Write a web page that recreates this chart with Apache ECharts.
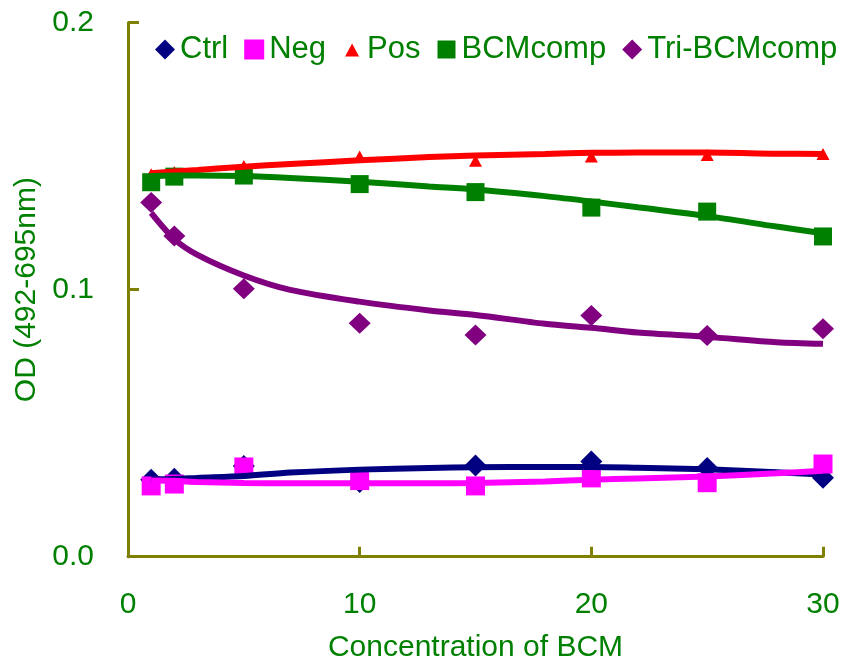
<!DOCTYPE html>
<html>
<head>
<meta charset="utf-8">
<script src="https://cdn.jsdelivr.net/npm/echarts@6/dist/echarts.min.js"></script>
<style>html,body{margin:0;padding:0;background:#fff;}#c{width:842px;height:661px;}</style>
</head>
<body>
<div id="c"></div>
<script>
// Measured points
const conc = [1, 2, 5, 10, 15, 20, 25, 30];
const ctrlVals = [0.0288, 0.0292, 0.0340, 0.0280, 0.0341, 0.0356, 0.0332, 0.0296];
const negVals  = [0.0265, 0.0272, 0.0336, 0.0285, 0.0265, 0.0295, 0.0277, 0.0347];
const posVals  = [0.1432, 0.1440, 0.1463, 0.1498, 0.1482, 0.1498, 0.1504, 0.1508];
const bcmVals  = [0.1402, 0.1423, 0.1427, 0.1395, 0.1365, 0.1307, 0.1292, 0.1199];
const triVals  = [0.1326, 0.1201, 0.1003, 0.0874, 0.0830, 0.0903, 0.0828, 0.0853];

// Trend lines
const fitX    = [1, 2, 3, 5, 7, 10, 13, 15, 18, 20, 22, 25, 28, 30];
const ctrlFit = [0.0290, 0.0291, 0.0295, 0.0302, 0.0315, 0.0326, 0.0332, 0.0335, 0.0336, 0.0336, 0.0333, 0.0327, 0.0316, 0.0308];
const negFit  = [0.0285, 0.0284, 0.0280, 0.0276, 0.0275, 0.0275, 0.0275, 0.0276, 0.0282, 0.0288, 0.0293, 0.0300, 0.0312, 0.0322];
const posFit  = [0.1436, 0.1442, 0.1448, 0.1460, 0.1470, 0.1484, 0.1496, 0.1502, 0.1508, 0.1512, 0.1513, 0.1513, 0.1509, 0.1508];
const bcmFit  = [0.1425, 0.1427, 0.1427, 0.1425, 0.1418, 0.1404, 0.1386, 0.1375, 0.1350, 0.1330, 0.1308, 0.1275, 0.1236, 0.1211];
const triFit  = [0.1287, 0.1189, 0.1130, 0.1053, 0.0999, 0.0955, 0.0922, 0.0905, 0.0872, 0.0857, 0.0839, 0.0823, 0.0803, 0.0797];

const xTicks = [0, 10, 20, 30];
const yTickLabels = ['0.0', '0.1', '0.2'];

const FONT = "'Liberation Sans', Arial, sans-serif";
const TXT = '#008000';
const AX = '#808000';

const pairs = (xs, ys) => xs.map((x, i) => [x, ys[i]]);

const defs = [
  {name: 'Ctrl', color: '#000080', symbol: 'diamond', size: [22, 22], vals: ctrlVals, fit: ctrlFit},
  {name: 'Neg', color: '#FF00FF', symbol: 'rect', size: [19, 19], vals: negVals, fit: negFit},
  {name: 'Pos', color: '#FF0000', symbol: 'triangle', size: [13, 12], vals: posVals, fit: posFit},
  {name: 'BCMcomp', color: '#008000', symbol: 'rect', size: [18, 18], vals: bcmVals, fit: bcmFit},
  {name: 'Tri-BCMcomp', color: '#800080', symbol: 'diamond', size: [22, 21], vals: triVals, fit: triFit}
];

const series = [];
defs.forEach(d => {
  series.push({
    name: d.name + ' trend', type: 'line', data: pairs(fitX, d.fit),
    showSymbol: false, symbol: 'none', smooth: 0.3,
    lineStyle: {color: d.color, width: 6}, itemStyle: {color: d.color},
    silent: true, animation: false
  });
  series.push({
    name: d.name, type: 'scatter', data: pairs(conc, d.vals),
    symbol: d.symbol, symbolSize: d.size,
    itemStyle: {color: d.color, opacity: 1}, animation: false
  });
});

const legendIcons = {
  'Ctrl': 'diamond', 'Neg': 'rect',
  'Pos': 'path://M0,0 M20,20 M3,17 L10,4 L17,17 Z',
  'BCMcomp': 'path://M0,0 M20,20 M1,1 L19,1 L19,19 L1,19 Z',
  'Tri-BCMcomp': 'diamond'
};

const chart = echarts.init(document.getElementById('c'), null, {renderer: 'canvas'});
chart.setOption({
  backgroundColor: '#ffffff',
  animation: false,
  grid: {left: 128, right: 19, top: 22.5, bottom: 104.3, containLabel: false, outerBoundsMode: 'none'},
  legend: {
    left: 155, top: 34, width: 687, padding: 0, itemWidth: 20, itemHeight: 20, itemGap: 16,
    textStyle: {color: TXT, fontSize: 31, fontFamily: FONT},
    data: defs.map(d => ({name: d.name, icon: legendIcons[d.name], itemStyle: {color: d.color}}))
  },
  xAxis: {
    type: 'value', min: 0, max: 30, interval: 10,
    name: 'Concentration of BCM', nameLocation: 'middle', nameGap: 76,
    nameTextStyle: {color: TXT, fontSize: 30, fontFamily: FONT},
    axisLine: {show: true, lineStyle: {color: AX, width: 3}},
    axisTick: {show: true, inside: true, length: 10, lineStyle: {color: AX, width: 3}},
    axisLabel: {color: TXT, fontSize: 30, fontFamily: FONT, margin: 33,
      formatter: v => xTicks.includes(v) ? String(v) : ''},
    splitLine: {show: false}
  },
  yAxis: {
    type: 'value', min: 0, max: 0.2, interval: 0.1,
    name: 'OD (492-695nm)', nameLocation: 'middle', nameGap: 86, nameRotate: 90,
    nameTextStyle: {color: TXT, fontSize: 30, fontFamily: FONT},
    axisLine: {show: true, lineStyle: {color: AX, width: 3}},
    axisTick: {show: true, inside: true, length: 11, lineStyle: {color: AX, width: 3}},
    axisLabel: {color: TXT, fontSize: 30, fontFamily: FONT, margin: 34,
      formatter: v => yTickLabels[Math.round(v * 10)]},
    splitLine: {show: false}
  },
  series: series
});
</script>
</body>
</html>
